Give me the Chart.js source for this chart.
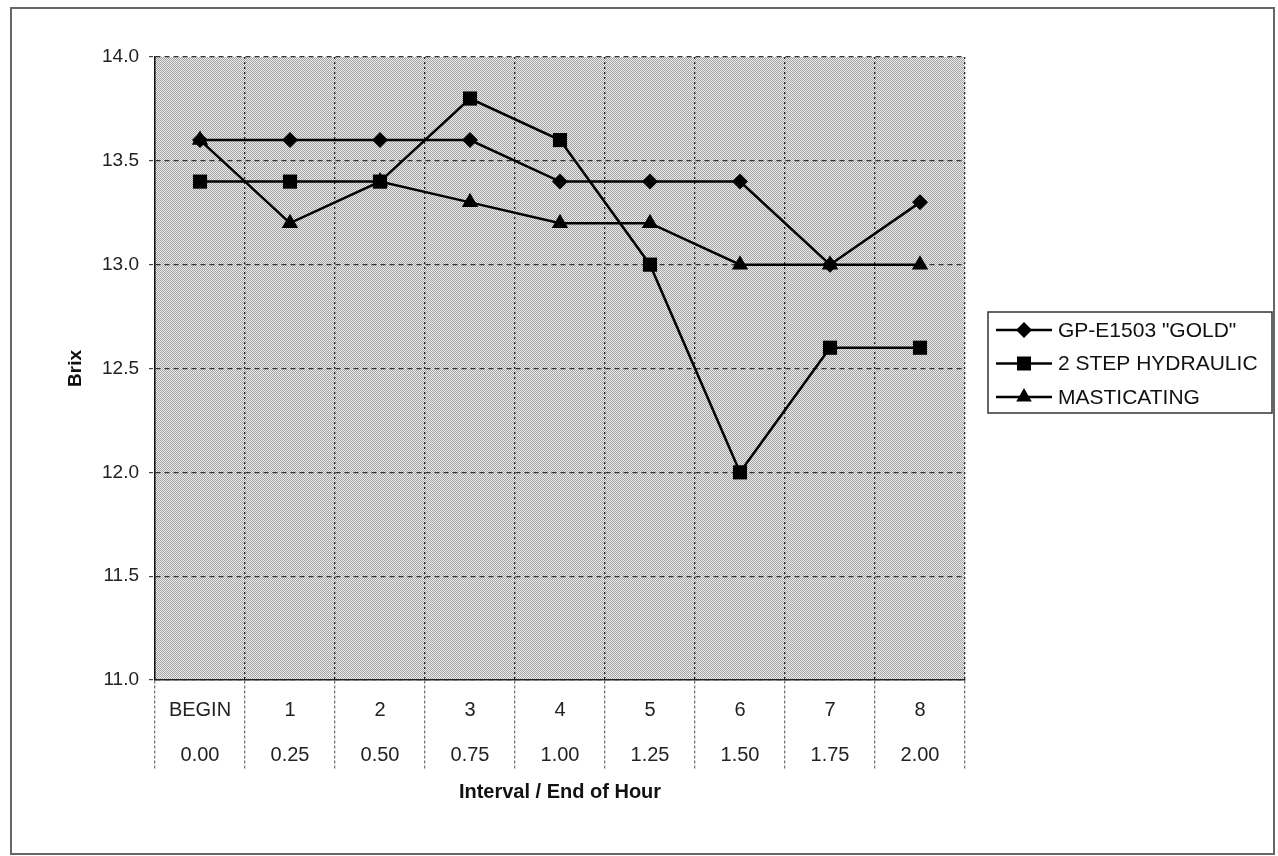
<!DOCTYPE html>
<html>
<head>
<meta charset="utf-8">
<script src="https://cdn.jsdelivr.net/npm/chart.js@4/dist/chart.umd.min.js"></script>
<style>
  body { margin: 0; background: #fff; }
  #wrap { position: relative; width: 1278px; height: 856px; }
  #frame { position: absolute; left: 10px; top: 7px; width: 1261px; height: 844px; border: 2px solid #666; }
  canvas { position: absolute; left: 0; top: 0; }
</style>
</head>
<body>
<div id="wrap">
  <div id="frame"></div>
  <canvas id="Brix_Chart" width="1278" height="856"></canvas>
</div>
<script>
// x axis: two label rows (interval, end of hour)
let intervals = ["BEGIN", "1", "2", "3", "4", "5", "6", "7", "8"];
let hours = ["0.00", "0.25", "0.50", "0.75", "1.00", "1.25", "1.50", "1.75", "2.00"];

// Brix readings
let gold = [13.6, 13.6, 13.6, 13.6, 13.4, 13.4, 13.4, 13.0, 13.3];
let hydraulic = [13.4, 13.4, 13.4, 13.8, 13.6, 13.0, 12.0, 12.6, 12.6];
let masticating = [13.6, 13.2, 13.4, 13.3, 13.2, 13.2, 13.0, 13.0, 13.0];

let seriesNames = ['GP-E1503 "GOLD"', "2 STEP HYDRAULIC", "MASTICATING"];
let yMin = 11.0, yMax = 14.0, yStep = 0.5;

let labels = intervals.map((v, i) => [v, hours[i]]);
let FONT = "'Liberation Sans', Arial, sans-serif";

// stippled grey fill like the scan
let makePattern = () => {
    let c = document.createElement("canvas");
    c.width = 2; c.height = 2;
    let g = c.getContext("2d");
    g.fillStyle = "#ececec"; g.fillRect(0, 0, 2, 2);
    g.fillStyle = "#a2a2a2"; g.fillRect(0, 0, 1, 1); g.fillRect(1, 1, 1, 1);
    return g.createPattern(c, "repeat");
};

let drawMarker = (ctx, style, x, y) => {
    ctx.beginPath();
    if (style == "rectRot") {
        let r = 8;
        ctx.moveTo(x, y - r); ctx.lineTo(x + r, y); ctx.lineTo(x, y + r); ctx.lineTo(x - r, y);
    } else if (style == "rect") {
        ctx.rect(x - 7, y - 7, 14, 14);
    } else {
        let r = 9;
        ctx.moveTo(x, y - r);
        ctx.lineTo(x + r * 0.866, y + r * 0.5);
        ctx.lineTo(x - r * 0.866, y + r * 0.5);
    }
    ctx.closePath();
    ctx.fill();
};

let plotBg = {
    id: "plotBg",
    beforeDraw(chart) {
        let { ctx, chartArea: a } = chart;
        ctx.save();
        ctx.fillStyle = makePattern();
        ctx.fillRect(a.left, a.top, a.right - a.left, a.bottom - a.top);
        ctx.restore();
    }
};

// boxed legend on the right, line + marker per entry
let boxLegend = {
    id: "boxLegend",
    afterDraw(chart) {
        let ctx = chart.ctx;
        let left = 988, top = 312, w = 284, h = 101;
        ctx.save();
        ctx.strokeStyle = "#333";
        ctx.lineWidth = 1.5;
        ctx.strokeRect(left, top, w, h);
        ctx.font = "21px " + FONT;
        ctx.textBaseline = "middle";
        chart.data.datasets.forEach((ds, i) => {
            let y = 330 + i * 33.5;
            ctx.strokeStyle = "#000";
            ctx.lineWidth = 2.5;
            ctx.beginPath();
            ctx.moveTo(996, y); ctx.lineTo(1052, y);
            ctx.stroke();
            ctx.fillStyle = "#000";
            drawMarker(ctx, ds.pointStyle, 1024, y);
            ctx.fillStyle = "#111";
            ctx.fillText(ds.label, 1058, y + 1);
        });
        ctx.restore();
    }
};

let mkSet = (name, data, style, r) => ({
    label: name,
    data: data,
    borderColor: "#000",
    backgroundColor: "#000",
    borderWidth: 2.5,
    pointStyle: style,
    pointRadius: r,
    pointHoverRadius: r,
    pointBorderWidth: 0,
    tension: 0
});

new Chart("Brix_Chart", {
    type: "line",
    data: {
        labels: labels,
        datasets: [
            mkSet(seriesNames[0], gold, "rectRot", 8),
            mkSet(seriesNames[1], hydraulic, "rect", 10),
            mkSet(seriesNames[2], masticating, "triangle", 9.5)
        ]
    },
    options: {
        responsive: false,
        animation: false,
        events: [],
        layout: { padding: { left: 52, top: 57, right: 313, bottom: 44 } },
        plugins: {
            legend: { display: false },
            tooltip: { enabled: false }
        },
        scales: {
            x: {
                offset: true,
                afterFit: (s) => { s.height = 132 },
                grid: {
                    offset: true,
                    color: "#222",
                    lineWidth: 1.3,
                    drawTicks: true,
                    tickLength: 90,
                    tickColor: "#777",
                    tickBorderDash: [3, 2],
                    tickWidth: 1.3
                },
                border: { display: true, color: "#222", width: 1.5, dash: [2, 3] },
                ticks: {
                    color: "#222",
                    padding: -82.5,
                    maxRotation: 0,
                    autoSkip: false,
                    font: { family: FONT, size: 20, lineHeight: 2.25 }
                },
                title: {
                    display: true,
                    text: "Interval / End of Hour",
                    color: "#111",
                    padding: { top: 3, bottom: 8 },
                    font: { family: FONT, size: 20, weight: "bold" }
                }
            },
            y: {
                min: yMin,
                max: yMax,
                afterFit: (s) => { s.width = 103 },
                grid: {
                    color: "#333",
                    lineWidth: 1.2,
                    tickLength: 6,
                    tickColor: "#444",
                    tickBorderDash: [4, 4]
                },
                border: { display: true, color: "#111", width: 1.5, dash: [5, 4] },
                ticks: {
                    stepSize: yStep,
                    color: "#222",
                    padding: 10,
                    font: { family: FONT, size: 19 },
                    callback: (v) => v.toFixed(1)
                },
                title: {
                    display: true,
                    text: "Brix",
                    color: "#111",
                    padding: { top: 12, bottom: 0 },
                    font: { family: FONT, size: 19, weight: "bold" }
                }
            }
        }
    },
    plugins: [plotBg, boxLegend]
});
</script>
</body>
</html>
